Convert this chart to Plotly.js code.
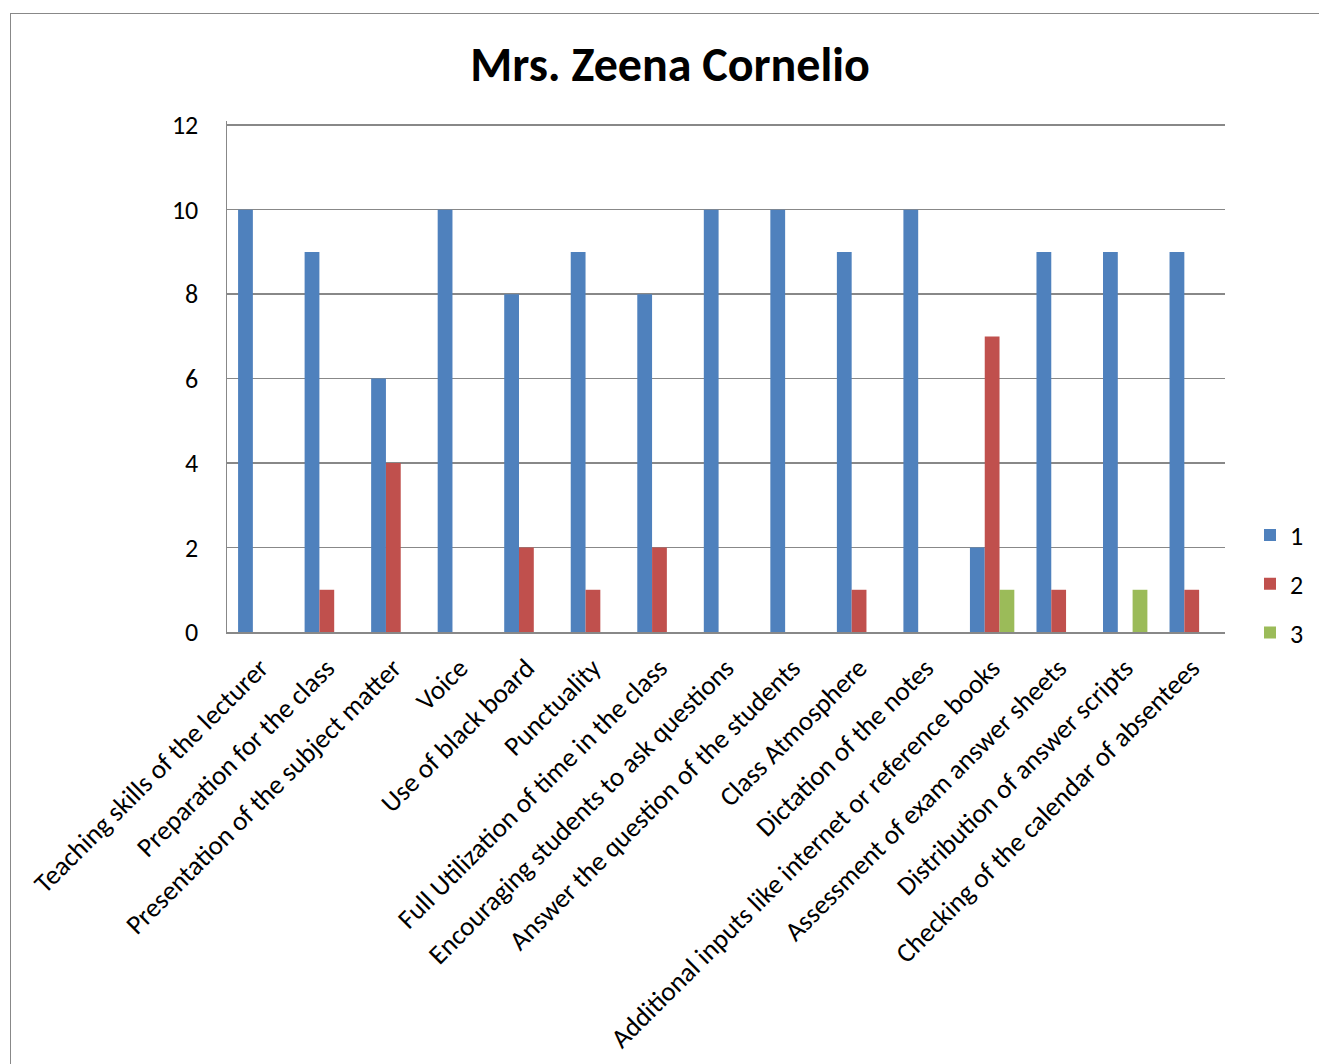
<!DOCTYPE html>
<html>
<head>
<meta charset="utf-8">
<script src="https://cdn.plot.ly/plotly-3.0.1.min.js"></script>
<style>
html,body{margin:0;padding:0;background:#fff;overflow:hidden;}
#frame{position:absolute;left:10px;top:13px;width:1330px;height:1080px;border:1.5px solid #888;box-sizing:border-box;}
#chart{position:absolute;left:0;top:0;width:1319px;height:1064px;}
</style>
</head>
<body>
<div id="frame"></div>
<div id="chart"></div>
<script>
const categories = [
  "Teaching skills of the lecturer",
  "Preparation for the class",
  "Presentation of the subject matter",
  "Voice",
  "Use of black board",
  "Punctuality",
  "Full Utilization of time in the class",
  "Encouraging students to ask questions",
  "Answer the question of the students",
  "Class Atmosphere",
  "Dictation of the notes",
  "Additional inputs like internet or reference books",
  "Assessment of exam answer sheets",
  "Distribution of answer scripts",
  "Checking of the calendar of absentees"
];
const series1 = [10, 9, 6, 10, 8, 9, 8, 10, 10, 9, 10, 2, 9, 9, 9];
const series2 = [0, 1, 4, 0, 2, 1, 2, 0, 0, 1, 0, 7, 1, 0, 1];
const series3 = [0, 0, 0, 0, 0, 0, 0, 0, 0, 0, 0, 1, 0, 1, 0];
const seriesNames = ["1", "2", "3"];
const yTicks = [0, 2, 4, 6, 8, 10, 12];

const FONT = "Calibri, Carlito, Lato, 'Open Sans', sans-serif";
const colors = ["#4F81BD", "#C0504D", "#9BBB59"];
const data = [series1, series2, series3].map((vals, i) => ({
  type: "bar",
  name: seriesNames[i],
  legendgroup: "g" + i,
  x: categories,
  y: vals,
  marker: {color: colors[i], line: {width: 0}}
}));

const layout = {
  width: 1319, height: 1064,
  paper_bgcolor: "rgba(0,0,0,0)",
  plot_bgcolor: "#fff",
  margin: {l: 227, r: 94, t: 121, b: 432},
  barmode: "group",
  bargap: 0.333,
  bargroupgap: 0,
  font: {family: FONT, color: "#000"},
  title: {
    text: "<b>Mrs. Zeena Cornelio</b>",
    font: {family: FONT, size: 48, color: "#000"},
    x: 0.508, xanchor: "center",
    y: 1 - 64/1064, yanchor: "middle", yref: "container"
  },
  xaxis: {
    type: "category",
    tickangle: -45,
    tickfont: {family: FONT, size: 27, color: "#000"},
    showline: true, linecolor: "#888", linewidth: 1.5,
    showgrid: false, ticks: "",
    ticklabelstandoff: 8,
    automargin: false
  },
  yaxis: {
    range: [0, 12.1],
    tickvals: yTicks,
    tickfont: {family: FONT, size: 26, color: "#000"},
    showgrid: true, gridcolor: "#888", gridwidth: 1.5,
    showline: true, linecolor: "#888", linewidth: 1.5,
    zeroline: false,
    ticks: "",
    ticklabelstandoff: 22,
    automargin: false
  },
  showlegend: true,
  legend: {
    xref: "container", yref: "container",
    x: 1250 / 1319, xanchor: "left",
    y: 1 - 584 / 1064, yanchor: "middle",
    font: {family: FONT, size: 26, color: "#000"},
    tracegroupgap: 12,
    itemwidth: 30,
    bgcolor: "rgba(0,0,0,0)"
  }
};

Plotly.newPlot("chart", data, layout, {displayModeBar: false, staticPlot: true});
</script>
</body>
</html>
